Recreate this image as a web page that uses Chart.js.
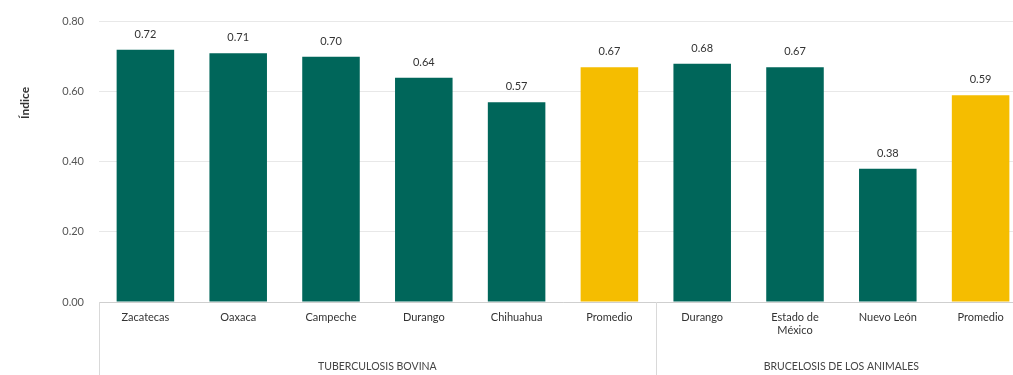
<!DOCTYPE html>
<html>
<head>
<meta charset="utf-8">
<script src="https://cdn.jsdelivr.net/npm/chart.js@4/dist/chart.umd.min.js"></script>
<style>
html, body { margin: 0; padding: 0; overflow: hidden; background: #fff; }
#wrap { width: 1030px; height: 375px; }
</style>
</head>
<body>
<div id="wrap"><canvas id="grafica" width="1030" height="375"></canvas></div>
<script>
// datos
var estados = ["Zacatecas", "Oaxaca", "Campeche", "Durango", "Chihuahua", "Promedio",
               "Durango", ["Estado de", "México"], "Nuevo León", "Promedio"];
var indice = [0.72, 0.71, 0.70, 0.64, 0.57, 0.67, 0.68, 0.67, 0.38, 0.59];
var esPromedio = [0, 0, 0, 0, 0, 1, 0, 0, 0, 1];
var grupos = ["TUBERCULOSIS BOVINA", "BRUCELOSIS DE LOS ANIMALES"];
var grupoInicio = [0, 6];
var grupoFin = [5, 9];
var marcasY = [0, 0.2, 0.4, 0.6, 0.8];

var verde = "#00665a";
var amarillo = "#f5bd00";
var fuente = "Lato, 'Open Sans', sans-serif";

var colores = esPromedio.map(function (p) { return p ? amarillo : verde; });

// etiquetas de valor, grupos y titulo del eje
var extras = {
    id: "extras",
    afterDatasetsDraw: function (chart) {
        var ctx = chart.ctx;
        var meta = chart.getDatasetMeta(0);
        ctx.save();
        ctx.fillStyle = "#333";
        ctx.font = "11px " + fuente;
        ctx.textAlign = "center";
        ctx.textBaseline = "bottom";
        meta.data.forEach(function (bar, i) {
            ctx.fillText(indice[i].toFixed(2), bar.x, bar.y - 10);
        });
        ctx.restore();
    },
    afterDraw: function (chart) {
        var ctx = chart.ctx;
        var x = chart.scales.x;
        var area = chart.chartArea;
        var paso = x.getPixelForValue(1) - x.getPixelForValue(0);
        ctx.save();
        // separadores
        ctx.strokeStyle = "#d9d9d9";
        ctx.lineWidth = 1;
        grupoInicio.forEach(function (ini) {
            var px = Math.round(x.getPixelForValue(ini) - paso / 2) + 0.5;
            ctx.beginPath();
            ctx.moveTo(px, area.bottom);
            ctx.lineTo(px, chart.height);
            ctx.stroke();
        });
        // nombres de grupo
        ctx.fillStyle = "#444";
        ctx.font = "10.5px " + fuente;
        ctx.textAlign = "center";
        ctx.textBaseline = "middle";
        grupos.forEach(function (g, k) {
            var cx = (x.getPixelForValue(grupoInicio[k]) + x.getPixelForValue(grupoFin[k])) / 2;
            ctx.fillText(g, cx, 367);
        });
        // titulo eje y
        ctx.translate(25, 103);
        ctx.rotate(-Math.PI / 2);
        ctx.fillStyle = "#333";
        ctx.font = "bold 12px " + fuente;
        ctx.fillText("Índice", 0, 0);
        ctx.restore();
    }
};

var grafica = new Chart(document.getElementById("grafica"), {
    type: "bar",
    data: {
        labels: estados,
        datasets: [{
            data: indice,
            backgroundColor: colores,
            categoryPercentage: 1,
            barPercentage: 0.62
        }]
    },
    options: {
        responsive: false,
        animation: false,
        layout: { padding: { top: 18, right: 3, left: 0, bottom: 0 } },
        plugins: {
            legend: { display: false },
            tooltip: { enabled: false }
        },
        scales: {
            x: {
                grid: { display: false, drawTicks: false },
                border: { color: "#cfcfcf" },
                ticks: {
                    color: "#333",
                    font: { family: fuente, size: 11 },
                    padding: 9,
                    maxRotation: 0,
                    autoSkip: false
                },
                afterFit: function (s) { s.height = 73; }
            },
            y: {
                min: 0,
                max: 0.8,
                afterBuildTicks: function (s) {
                    s.ticks = marcasY.map(function (v) { return { value: v }; });
                },
                grid: { color: "#e8e8e8", drawTicks: false },
                border: { display: false },
                ticks: {
                    color: "#555",
                    font: { family: fuente, size: 11 },
                    padding: 15,
                    callback: function (v) { return Number(v).toFixed(2); }
                },
                afterFit: function (s) { s.width = 99; }
            }
        }
    },
    plugins: [extras]
});
</script>
</body>
</html>
